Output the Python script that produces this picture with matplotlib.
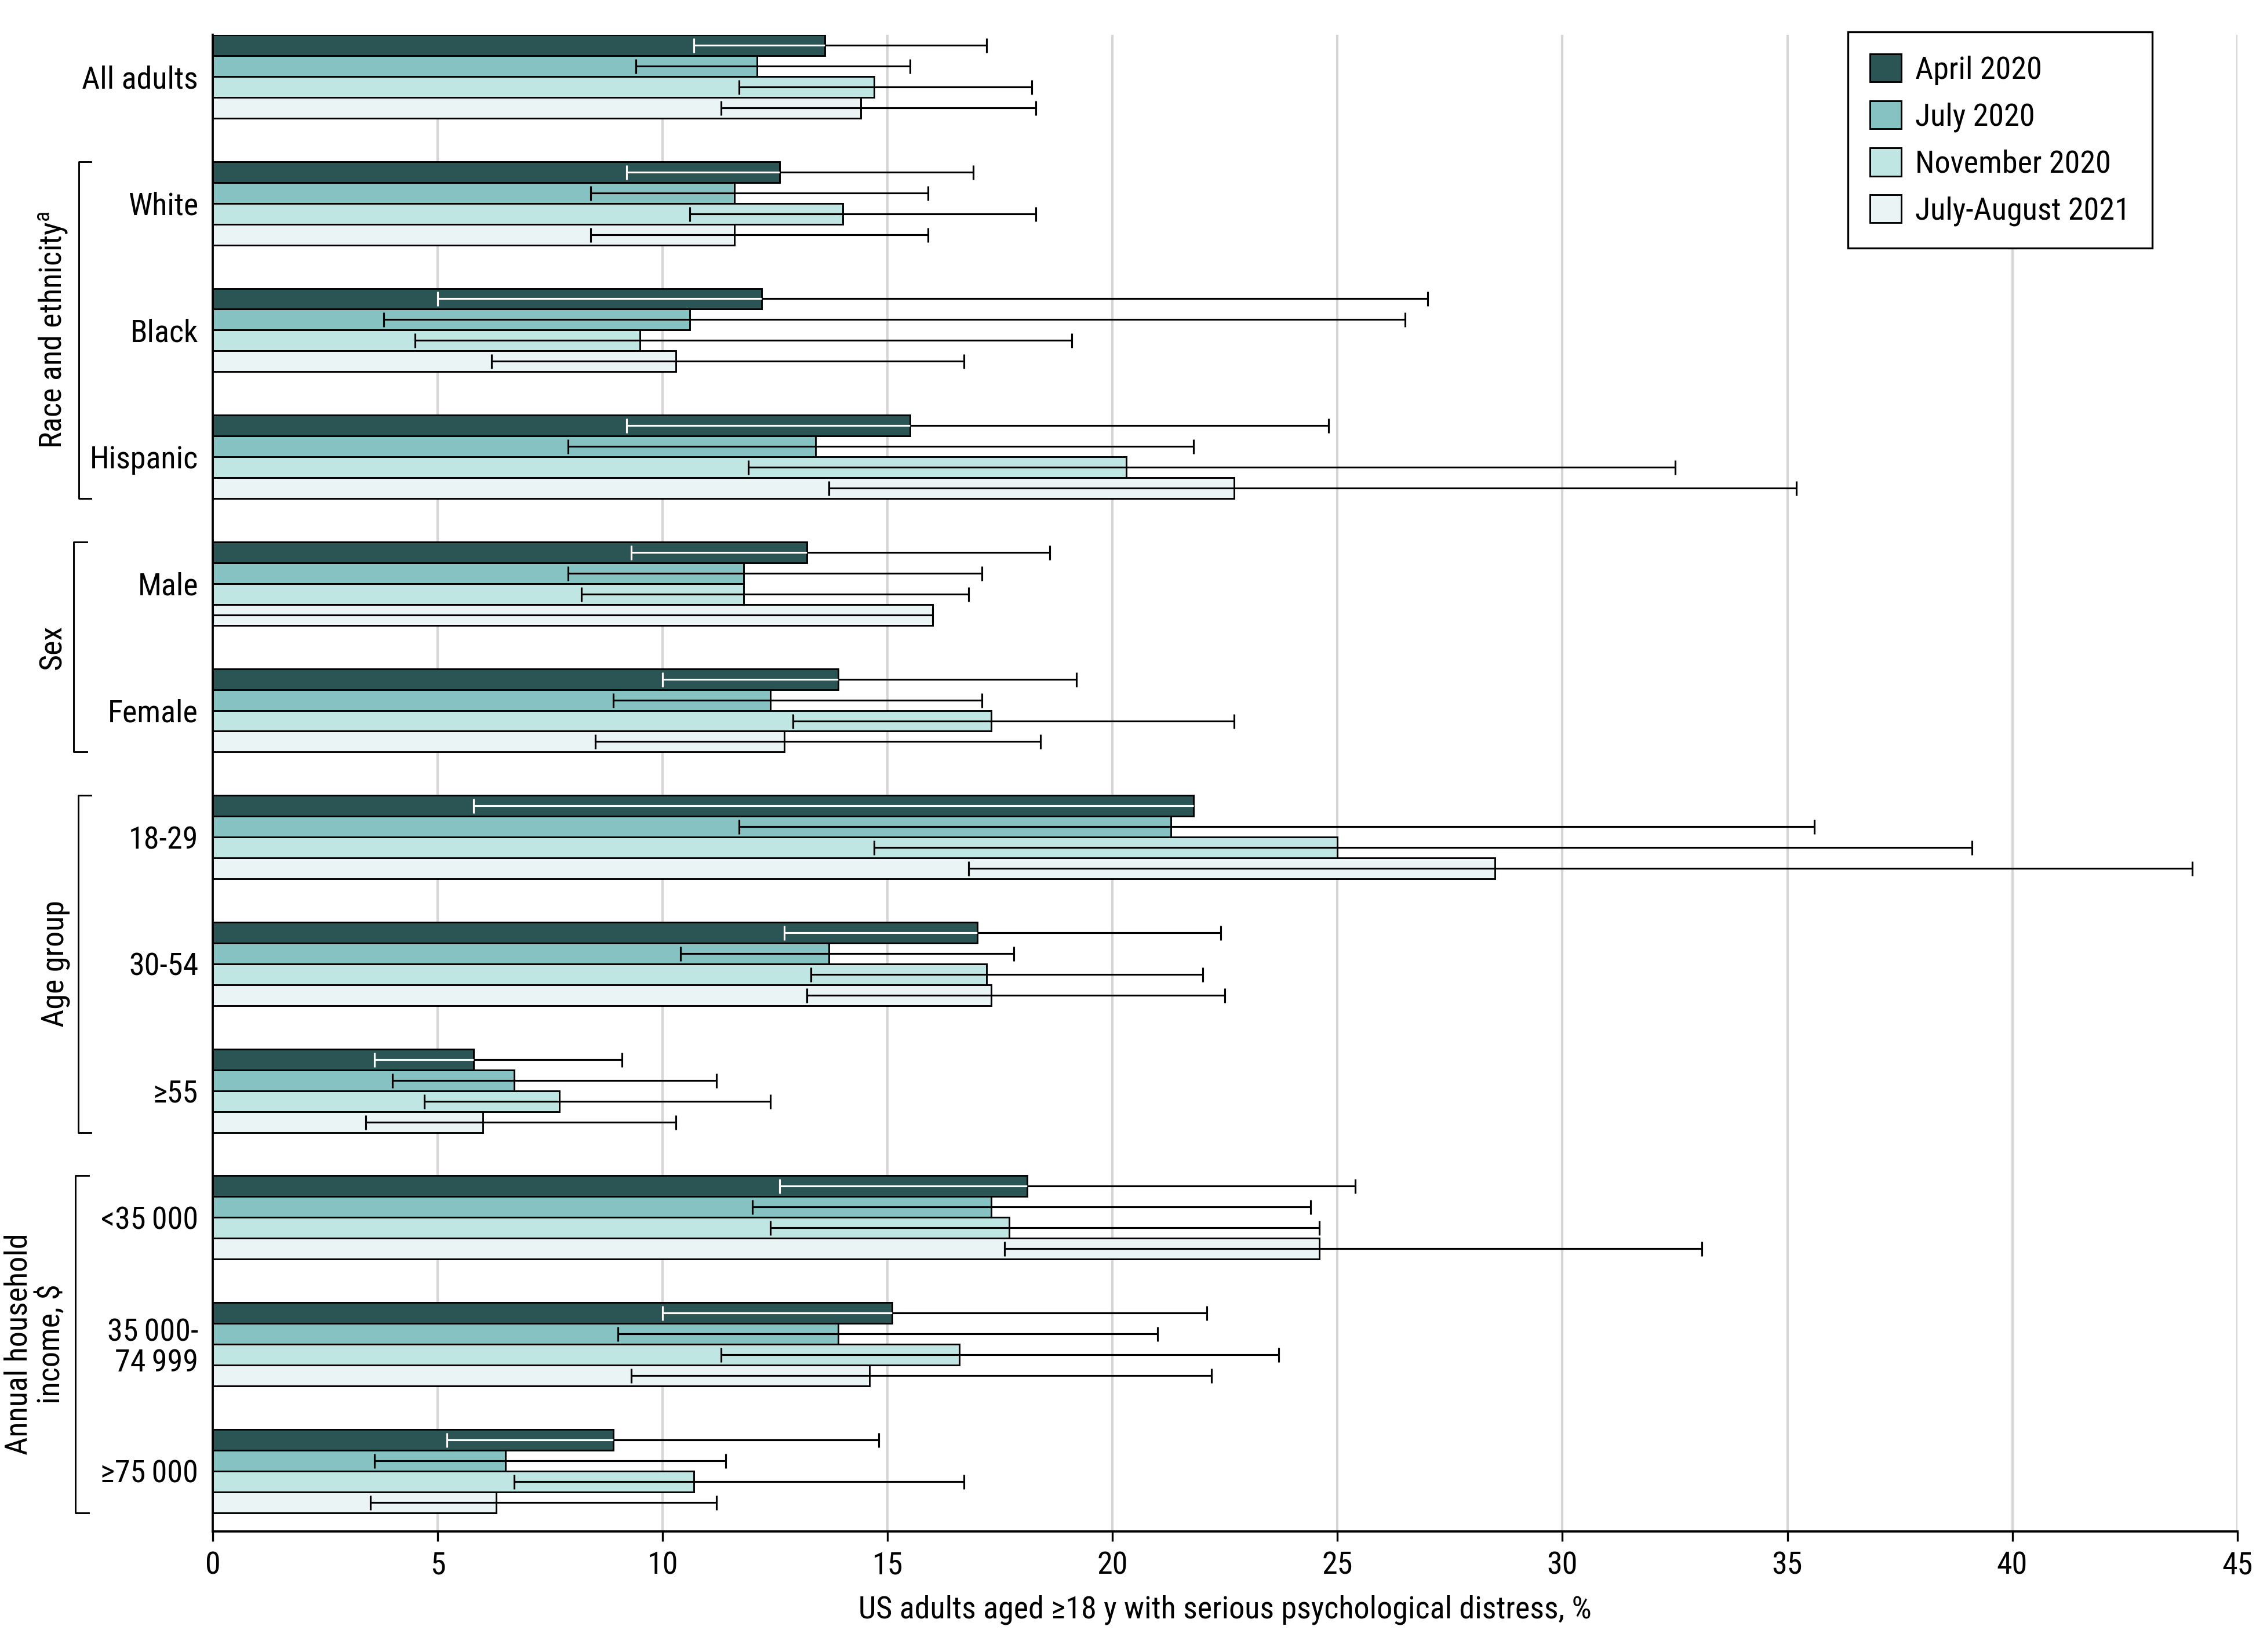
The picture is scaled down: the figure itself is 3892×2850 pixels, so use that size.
import numpy as np
import matplotlib
matplotlib.use("Agg")
import matplotlib.pyplot as plt
from matplotlib import font_manager as fm
from matplotlib.patches import Patch

# ---------------- data ----------------
categories = ['All adults', 'White', 'Black', 'Hispanic', 'Male', 'Female',
              '18-29', '30-54', '\u226555', '<35\u2009000', '35\u2009000-\n74\u2009999', '\u226575\u2009000']
series_names = ['April 2020', 'July 2020', 'November 2020', 'July-August 2021']

april = [13.6, 12.6, 12.2, 15.5, 13.2, 13.9, 21.8, 17.0, 5.8, 18.1, 15.1, 8.9]
april_lo = [10.7, 9.2, 5.0, 9.2, 9.3, 10.0, 5.8, 12.7, 3.6, 12.6, 10.0, 5.2]
april_hi = [17.2, 16.9, 27.0, 24.8, 18.6, 19.2, np.nan, 22.4, 9.1, 25.4, 22.1, 14.8]

july = [12.1, 11.6, 10.6, 13.4, 11.8, 12.4, 21.3, 13.7, 6.7, 17.3, 13.9, 6.5]
july_lo = [9.4, 8.4, 3.8, 7.9, 7.9, 8.9, 11.7, 10.4, 4.0, 12.0, 9.0, 3.6]
july_hi = [15.5, 15.9, 26.5, 21.8, 17.1, 17.1, 35.6, 17.8, 11.2, 24.4, 21.0, 11.4]

nov = [14.7, 14.0, 9.5, 20.3, 11.8, 17.3, 25.0, 17.2, 7.7, 17.7, 16.6, 10.7]
nov_lo = [11.7, 10.6, 4.5, 11.9, 8.2, 12.9, 14.7, 13.3, 4.7, 12.4, 11.3, 6.7]
nov_hi = [18.2, 18.3, 19.1, 32.5, 16.8, 22.7, 39.1, 22.0, 12.4, 24.6, 23.7, 16.7]

aug21 = [14.4, 11.6, 10.3, 22.7, 16.0, 12.7, 28.5, 17.3, 6.0, 24.6, 14.6, 6.3]
aug21_lo = [11.3, 8.4, 6.2, 13.7, 0.0, 8.5, 16.8, 13.2, 3.4, 17.6, 9.3, 3.5]
aug21_hi = [18.3, 15.9, 16.7, 35.2, 16.0, 18.4, 44.0, 22.5, 10.3, 33.1, 22.2, 11.2]

# group brackets: (label, first category index, last category index)
brackets = [('Race and ethnicity$^{\\mathrm{a}}$', 1, 3), ('Sex', 4, 5),
            ('Age group', 6, 8), ('Annual household\nincome, $', 9, 11)]

xticks = [0, 5, 10, 15, 20, 25, 30, 35, 40, 45]
xlabel = 'US adults aged \u226518 y with serious psychological distress, %'

colors = ['#2B5454', '#86C2C1', '#C0E6E4', '#EAF4F5']

# ---------------- font ----------------
avail = {f.name for f in fm.fontManager.ttflist}
font = 'DejaVu Sans'
for cand in ['Roboto Condensed', 'Liberation Sans Narrow', 'Roboto', 'Lato']:
    if cand in avail:
        font = cand
        break
plt.rcParams['font.family'] = [font, 'DejaVu Sans']
plt.rcParams['mathtext.fontset'] = 'custom'
plt.rcParams['mathtext.rm'] = font

FS = 13

fig = plt.figure(figsize=(3892 / 300, 2850 / 300), dpi=300)
ax = fig.add_axes([0.0943, 0.0730, 0.9974 - 0.0943 - 0.0057, 0.9789 - 0.0730])

values = [april, july, nov, aug21]
los = [april_lo, july_lo, nov_lo, aug21_lo]
his = [april_hi, july_hi, nov_hi, aug21_hi]

n = len(categories)
bh = 0.1645
base = np.arange(n, dtype=float)
lw_err = 0.75
cap_ms = 6

for j in range(4):
    yy = base + (j + 0.5) * bh
    ax.barh(yy, values[j], height=bh, color=colors[j], edgecolor='black',
            linewidth=0.7, zorder=2, label=series_names[j])
    for i in range(n):
        v, lo, hi = values[j][i], los[j][i], his[j][i]
        y = yy[i]
        if j == 0:
            end_in = v if np.isnan(hi) else min(v, hi)
            ax.plot([lo, end_in], [y, y], color='white', lw=lw_err, zorder=4,
                    solid_capstyle='butt')
            ax.plot([lo], [y], marker='|', ms=cap_ms, mew=lw_err, color='white', zorder=4)
            if not np.isnan(hi) and hi > v:
                ax.plot([v, hi], [y, y], color='black', lw=lw_err, zorder=4,
                        solid_capstyle='butt')
                ax.plot([hi], [y], marker='|', ms=cap_ms, mew=lw_err, color='black', zorder=4)
        else:
            ax.plot([lo, hi], [y, y], color='black', lw=lw_err, zorder=4,
                    marker='|', ms=cap_ms, mew=lw_err, solid_capstyle='butt')

ax.set_ylim(11.806, 0)
ax.set_xlim(0, 45)
ax.set_xticks(xticks)
ax.set_xticklabels([str(t) for t in xticks], fontsize=FS)
ax.set_yticks(base + 2 * bh)
ax.set_yticklabels(categories, fontsize=FS, linespacing=1.05)
ax.tick_params(axis='y', length=0, pad=6)
ax.tick_params(axis='x', length=4, width=0.8, pad=4, direction='out')
ax.set_xlabel(xlabel, fontsize=FS, labelpad=6)

ax.grid(axis='x', color='#d6d6d6', linewidth=1.0, zorder=0)
ax.set_axisbelow(True)
for s in ['top', 'right']:
    ax.spines[s].set_visible(False)
for s in ['left', 'bottom']:
    ax.spines[s].set_linewidth(0.9)
    ax.spines[s].set_zorder(5)

# brackets
trans = matplotlib.transforms.blended_transform_factory(ax.transAxes, ax.transData)
bx = [(-0.0662, -0.0601), (-0.0686, -0.0621), (-0.0664, -0.0600), (-0.0679, -0.0614)]
lx = [-0.0788, -0.0790, -0.0778, -0.0880]
for k, (lab, a, b) in enumerate(brackets):
    top = base[a]
    bot = base[b] + 4 * bh
    x0, x1 = bx[k]
    ax.plot([x1, x0, x0, x1], [top, top, bot, bot], color='black', lw=0.7,
            transform=trans, clip_on=False)
    ax.text(lx[k], (top + bot) / 2, lab, rotation=90, ha='center', va='center',
            fontsize=FS, transform=trans, linespacing=1.1)

# legend
handles = [Patch(facecolor=colors[j], edgecolor='black', linewidth=0.7, label=series_names[j])
           for j in range(4)]
leg = ax.legend(handles=handles, loc='upper right', bbox_to_anchor=(0.958, 1.002),
                fontsize=FS, frameon=True, fancybox=False, framealpha=1,
                edgecolor='black', handlelength=1.0, handleheight=1.0,
                handletextpad=0.45, labelspacing=0.5, borderpad=0.7,
                borderaxespad=0.0)
leg.get_frame().set_linewidth(0.8)

fig.savefig('out.png', dpi=300)
